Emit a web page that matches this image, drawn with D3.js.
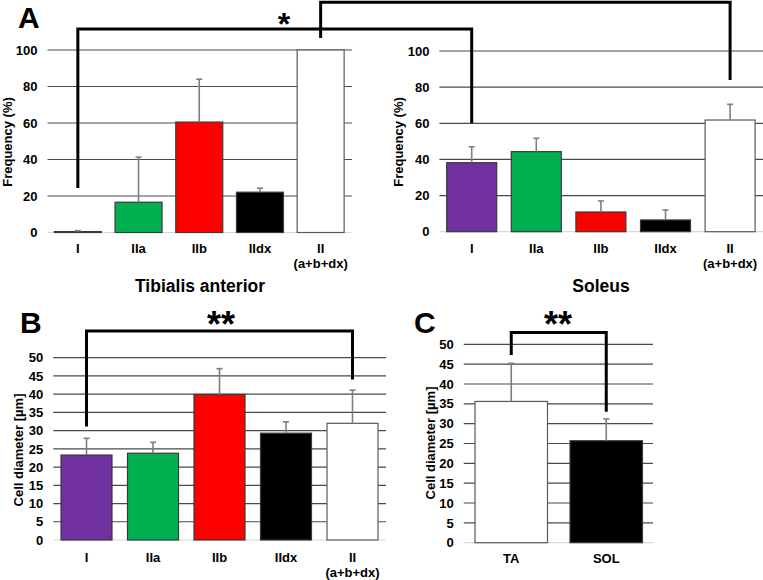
<!DOCTYPE html>
<html>
<head>
<meta charset="utf-8">
<script src="https://cdn.jsdelivr.net/npm/d3@7/dist/d3.min.js"></script>
<style>
  html, body { margin: 0; padding: 0; background: #fff; }
  svg { display: block; font-family: "Liberation Sans", Arial, sans-serif; font-weight: bold; }
</style>
</head>
<body>
<svg id="chart" width="763" height="580"></svg>
<script>
// ---------- data ----------
const fiberTypes = ["I", "IIa", "IIb", "IIdx", "II"];
const fiberLabels = [["I"], ["IIa"], ["IIb"], ["IIdx"], ["II", "(a+b+dx)"]];
const fiberColors = ["#7030A0", "#00B050", "#FF0000", "#000000", "#FFFFFF"];

const taFrequency = [0.5, 16.6, 60.5, 22.1, 100];
const taFrequencyErr = [0.5, 24.7, 23.5, 2.2, 0];
const solFrequency = [38.2, 44.3, 10.9, 6.5, 61.8];
const solFrequencyErr = [8.8, 7.4, 6.1, 5.5, 8.7];

const taDiameter = [23.3, 23.8, 39.9, 29.3, 32.0];
const taDiameterErr = [4.6, 3.0, 7.1, 3.1, 9.1];

const muscles = ["TA", "SOL"];
const muscleLabels = [["TA"], ["SOL"]];
const muscleColors = ["#FFFFFF", "#000000"];
const muscleDiameter = [35.6, 25.7];
const muscleDiameterErr = [9.6, 5.5];

const frequencyTicks = [0, 20, 40, 60, 80, 100];
const diameterTicks = [0, 5, 10, 15, 20, 25, 30, 35, 40, 45, 50];

// ---------- drawing ----------
const svg = d3.select("#chart");
const gridColor = "#4a4a4a";
const errColor = "#7f7f7f";

function drawPanel(cfg) {
  const g = svg.append("g");
  const x = d3.scaleBand().domain(cfg.cats).range(cfg.xRange)
    .paddingInner(cfg.pad).paddingOuter(cfg.pad / 2);
  const y = d3.scaleLinear().domain(cfg.yDomain).range(cfg.yRange);

  // gridlines
  g.selectAll("line.grid").data(cfg.ticks).join("line")
    .attr("x1", cfg.xRange[0]).attr("x2", cfg.gridEnd)
    .attr("y1", d => y(d)).attr("y2", d => y(d))
    .attr("stroke", d => d === 0 ? "#d9d9d9" : gridColor)
    .attr("stroke-width", 1.2);

  // y tick labels via axis
  const axis = d3.axisLeft(y).tickValues(cfg.ticks).tickSize(0).tickPadding(0);
  const ag = g.append("g").attr("transform", `translate(${cfg.xRange[0] - 10},0)`).call(axis);
  ag.select(".domain").remove();
  ag.selectAll("text").attr("font-size", 13).attr("font-family", "Liberation Sans, Arial, sans-serif")
    .attr("font-weight", "bold").attr("fill", "#000");

  const data = cfg.cats.map((c, i) => ({c, v: cfg.vals[i], e: cfg.errs[i], fill: cfg.fills[i], lab: cfg.labels[i]}));

  // bars
  g.selectAll("rect.bar").data(data).join("rect")
    .attr("x", d => x(d.c)).attr("width", x.bandwidth())
    .attr("y", d => y(d.v)).attr("height", d => y(0) - y(d.v))
    .attr("fill", d => d.fill)
    .attr("stroke", d => d.fill === "#FFFFFF" ? "#595959" : "#3a3a3a")
    .attr("stroke-width", 1.2);

  // error bars (upper only)
  const eb = g.selectAll("g.err").data(data.filter(d => d.e > 0)).join("g");
  eb.append("line")
    .attr("x1", d => x(d.c) + x.bandwidth() / 2).attr("x2", d => x(d.c) + x.bandwidth() / 2)
    .attr("y1", d => y(d.v)).attr("y2", d => y(d.v + d.e))
    .attr("stroke", errColor).attr("stroke-width", 1.6);
  eb.append("line")
    .attr("x1", d => x(d.c) + x.bandwidth() / 2 - 3).attr("x2", d => x(d.c) + x.bandwidth() / 2 + 3)
    .attr("y1", d => y(d.v + d.e)).attr("y2", d => y(d.v + d.e))
    .attr("stroke", errColor).attr("stroke-width", 1.6);

  // category labels
  const lg = g.selectAll("text.cat").data(data).join("text")
    .attr("text-anchor", "middle").attr("font-size", 13)
    .attr("x", d => x(d.c) + x.bandwidth() / 2)
    .attr("y", cfg.labelY);
  lg.selectAll("tspan").data(d => d.lab).join("tspan")
    .attr("x", function () { return d3.select(this.parentNode).attr("x"); })
    .attr("dy", (d, i) => i === 0 ? 0 : 15)
    .text(d => d);

  // y axis title
  g.append("text")
    .attr("transform", `translate(${cfg.titleX},${cfg.titleY}) rotate(-90)`)
    .attr("text-anchor", "middle").attr("font-size", 13)
    .text(cfg.yTitle);

  return {x, y};
}

const A1 = drawPanel({
  cats: fiberTypes, labels: fiberLabels, fills: fiberColors,
  vals: taFrequency, errs: taFrequencyErr, ticks: frequencyTicks,
  xRange: [47.5, 351], gridEnd: 352, pad: 0.226,
  yDomain: [0, 100], yRange: [232.5, 50],
  labelY: 253, titleX: 12, titleY: 142, yTitle: "Frequency (%)"
});
const A2 = drawPanel({
  cats: fiberTypes, labels: fiberLabels, fills: fiberColors,
  vals: solFrequency, errs: solFrequencyErr, ticks: frequencyTicks,
  xRange: [439.4, 762.4], gridEnd: 763, pad: 0.226,
  yDomain: [0, 100], yRange: [231.7, 51],
  labelY: 253, titleX: 403, titleY: 142, yTitle: "Frequency (%)"
});
const B = drawPanel({
  cats: fiberTypes, labels: fiberLabels, fills: fiberColors,
  vals: taDiameter, errs: taDiameterErr, ticks: diameterTicks,
  xRange: [53.25, 385.75], gridEnd: 386, pad: 0.233,
  yDomain: [0, 50], yRange: [540, 357.7],
  labelY: 561.5, titleX: 23, titleY: 450, yTitle: "Cell diameter [µm]"
});
const C = drawPanel({
  cats: muscles, labels: muscleLabels, fills: muscleColors,
  vals: muscleDiameter, errs: muscleDiameterErr, ticks: diameterTicks,
  xRange: [463.75, 653.75], gridEnd: 653, pad: 0.237,
  yDomain: [0, 50], yRange: [542.7, 344.3],
  labelY: 563, titleX: 435, titleY: 443, yTitle: "Cell diameter [µm]"
});

// muscle titles under panel A
svg.append("text").attr("x", 200).attr("y", 292).attr("text-anchor", "middle")
  .attr("font-size", 17.5).text("Tibialis anterior");
svg.append("text").attr("x", 601).attr("y", 292).attr("text-anchor", "middle")
  .attr("font-size", 17.5).text("Soleus");

// panel letters
svg.append("text").attr("x", 18).attr("y", 28).attr("font-size", 30).text("A");
svg.append("text").attr("x", 20).attr("y", 333).attr("font-size", 30).text("B");
svg.append("text").attr("x", 414).attr("y", 333).attr("font-size", 30).text("C");

// significance brackets
function bracket(p1, c1, v1, p2, c2, v2, pTop, vTop) {
  const xa = p1.x(c1) + p1.x.bandwidth() / 2;
  const xb = p2.x(c2) + p2.x.bandwidth() / 2;
  const yt = pTop.y(vTop);
  svg.append("path")
    .attr("d", `M${xa},${p1.y(v1)}V${yt}H${xb}V${p2.y(v2)}`)
    .attr("fill", "none").attr("stroke", "#000").attr("stroke-width", 3);
}
bracket(A1, "I", 24.4, A2, "I", 60.2, A1, 111.5);
bracket(A1, "II", 106.6, A2, "II", 84, A1, 126.1);
bracket(B, "I", 31.1, B, "II", 44, B, 57.3);
bracket(C, "TA", 47.3, C, "SOL", 33, C, 53);

function stars(txt, x, y, size) {
  svg.append("text").attr("x", x).attr("y", y).attr("text-anchor", "middle")
    .attr("font-size", size).text(txt);
}
stars("*", 284, 35, 32);
stars("**", 221, 337, 36);
stars("**", 558, 337, 36);
</script>
</body>
</html>
